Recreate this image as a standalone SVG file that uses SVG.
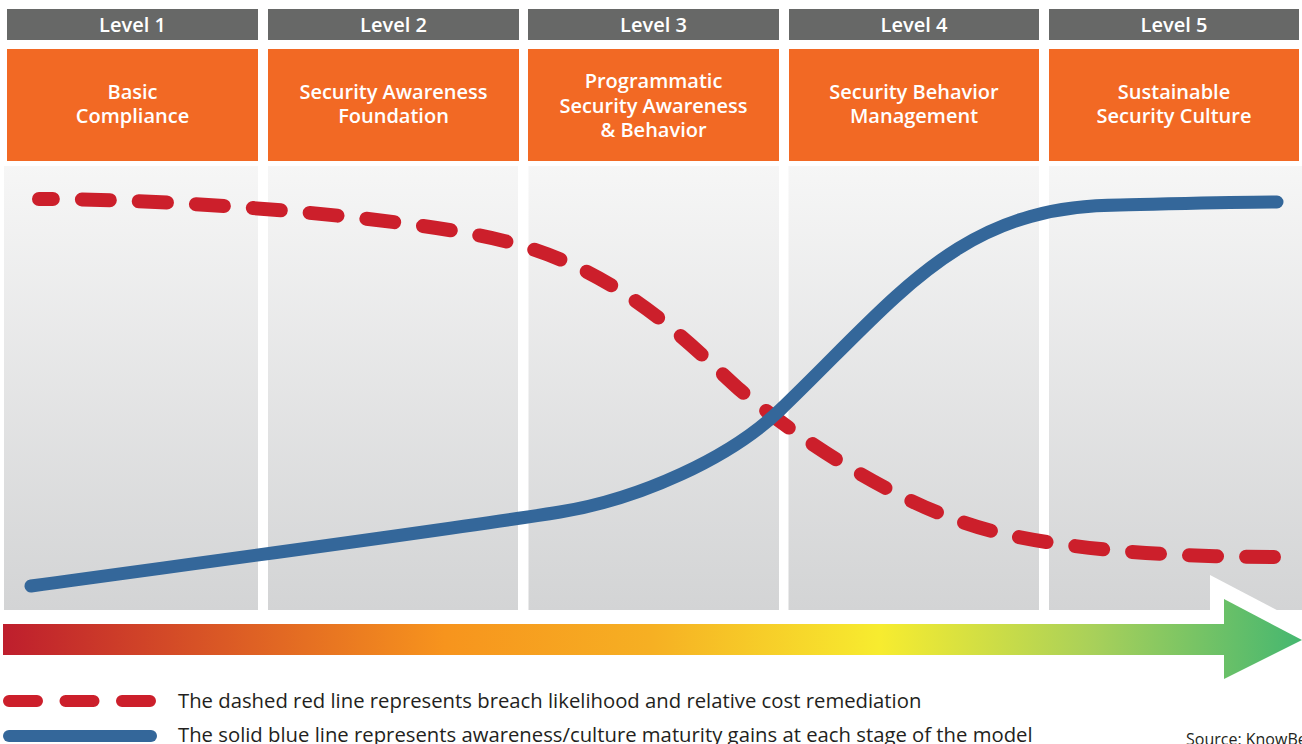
<svg xmlns="http://www.w3.org/2000/svg" width="1302" height="744" viewBox="0 0 1302 744">
  <defs>
    <linearGradient id="panelFill" x1="0" y1="0" x2="0" y2="1">
      <stop offset="0" stop-color="#f6f6f6"/>
      <stop offset="1" stop-color="#d3d4d5"/>
    </linearGradient>
    <linearGradient id="scaleFill" gradientUnits="userSpaceOnUse" x1="3" y1="0" x2="1302" y2="0">
      <stop offset="0" stop-color="#be1e2d"/>
      <stop offset="0.34" stop-color="#f7941d"/>
      <stop offset="0.5" stop-color="#f6b023"/>
      <stop offset="0.675" stop-color="#f7ec2f"/>
      <stop offset="0.84" stop-color="#a8d05a"/>
      <stop offset="1" stop-color="#45b770"/>
    </linearGradient>
    <style>
      .head { fill: #676867; }
      .card { fill: #f26924; }
      .col { fill: url(#panelFill); }
      .lvl, .name { font-family: "Open Sans", "Liberation Sans", sans-serif; font-weight: 600; font-size: 20px; fill: #ffffff; text-anchor: middle; }
      .legend { font-family: "Open Sans", "Liberation Sans", sans-serif; font-size: 20.3px; fill: #231f20; }
      .source { font-family: "Open Sans", "Liberation Sans", sans-serif; font-size: 16px; fill: #231f20; }
      .risk { fill: none; stroke: #cc1f2b; stroke-width: 14; stroke-linecap: round; stroke-dasharray: 28 29; }
      .maturity { fill: none; stroke: #34679a; stroke-width: 13; stroke-linecap: round; }
    </style>
  </defs>

  <rect width="1302" height="744" fill="#ffffff"/>

  <!-- level columns: header, stage card and chart backdrop -->
  <g id="level-1">
    <rect class="col" x="4" y="166" width="254" height="444"/>
    <rect class="head" x="7" y="9" width="251" height="31"/>
    <rect class="card" x="7" y="49" width="251" height="112"/>
    <text class="lvl" x="132.5" y="31.5">Level 1</text>
    <text class="name" x="132.5" y="99.3">Basic</text>
    <text class="name" x="132.5" y="123.3">Compliance</text>
  </g>
  <g id="level-2">
    <rect class="col" x="268" y="166" width="250" height="444"/>
    <rect class="head" x="268" y="9" width="251" height="31"/>
    <rect class="card" x="268" y="49" width="251" height="112"/>
    <text class="lvl" x="393.5" y="31.5">Level 2</text>
    <text class="name" x="393.5" y="99.3">Security Awareness</text>
    <text class="name" x="393.5" y="123.3">Foundation</text>
  </g>
  <g id="level-3">
    <rect class="col" x="528.5" y="166" width="250.5" height="444"/>
    <rect class="head" x="528" y="9" width="251" height="31"/>
    <rect class="card" x="528" y="49" width="251" height="112"/>
    <text class="lvl" x="653.5" y="31.5">Level 3</text>
    <text class="name" x="653.5" y="88.3">Programmatic</text>
    <text class="name" x="653.5" y="112.6">Security Awareness</text>
    <text class="name" x="653.5" y="136.9">&amp; Behavior</text>
  </g>
  <g id="level-4">
    <rect class="col" x="788.5" y="166" width="250.5" height="444"/>
    <rect class="head" x="789" y="9" width="250" height="31"/>
    <rect class="card" x="789" y="49" width="250" height="112"/>
    <text class="lvl" x="914" y="31.5">Level 4</text>
    <text class="name" x="914" y="99.3">Security Behavior</text>
    <text class="name" x="914" y="123.3">Management</text>
  </g>
  <g id="level-5">
    <rect class="col" x="1049" y="166" width="253" height="444"/>
    <rect class="head" x="1049" y="9" width="250" height="31"/>
    <rect class="card" x="1049" y="49" width="250" height="112"/>
    <text class="lvl" x="1174" y="31.5">Level 5</text>
    <text class="name" x="1174" y="99.3">Sustainable</text>
    <text class="name" x="1174" y="123.3">Security Culture</text>
  </g>

  <!-- progression arrow along the bottom -->
  <g id="progress-arrow">
    <polygon points="1210,575 1340,643 1210,711" fill="#ffffff"/>
    <rect x="3" y="624" width="1222" height="31" fill="url(#scaleFill)"/>
    <polygon points="1224,599 1302,640 1224,679" fill="url(#scaleFill)"/>
  </g>

  <!-- trend curves -->
  <g id="connectors">
    <path id="breach-curve" class="risk" stroke-dashoffset="14"
          d="M39,199 C200,199 420,220 500,240 C620,268 690,345 740,390 C790,432 900,510 1000,533 C1080,551.4 1180,557 1275,557"/>
    <path id="maturity-curve" class="maturity"
          d="M31,586 C250,556 460,528 560,512 C640,499 730,458 780,410 C900,294.8 960,205 1120,205 C1170,204 1230,202 1277,202"/>
  </g>

  <!-- key -->
  <g id="legend">
    <path class="risk" d="M9,701 L151,701" style="stroke-width:12; stroke-dasharray:28 28.5"/>
    <path class="maturity" d="M9,736 L151,736" style="stroke-width:12"/>
    <text class="legend" x="178" y="708">The dashed red line represents breach likelihood and relative cost remediation</text>
    <text class="legend" x="178" y="742">The solid blue line represents awareness/culture maturity gains at each stage of the model</text>
    <text class="source" x="1186" y="745">Source: KnowBe4</text>
  </g>
</svg>
